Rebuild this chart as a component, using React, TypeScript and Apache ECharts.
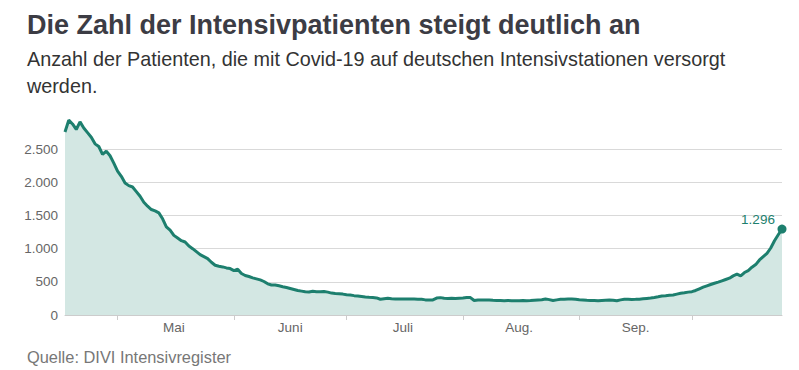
import React, { useEffect, useRef } from "react";
import * as echarts from "echarts";

const START_DATE = "2020-04-17";
const MONTH_LABELS: Record<string, string> = {
  "05": "Mai",
  "06": "Juni",
  "07": "Juli",
  "08": "Aug.",
  "09": "Sep.",
};
const Y_TICKS = [0, 500, 1000, 1500, 2000, 2500];
const PATIENTS = [
  2760, 2937, 2880, 2797, 2911, 2820, 2750, 2680, 2580, 2540,
  2420, 2470, 2400, 2290, 2170, 2090, 1990, 1950, 1930, 1860,
  1790, 1700, 1640, 1590, 1570, 1540, 1450, 1330, 1280, 1200,
  1160, 1120, 1100, 1040, 1000, 955, 910, 880, 850, 795,
  750, 735, 725, 710, 700, 670, 690, 625, 595, 580,
  560, 545, 530, 505, 470, 452, 452, 440, 427, 415,
  400, 385, 370, 360, 350, 346, 358, 352, 350, 355,
  345, 330, 325, 322, 315, 305, 300, 292, 288, 280,
  272, 266, 262, 258, 238, 245, 252, 246, 242, 241,
  241, 240, 242, 240, 238, 236, 228, 226, 228, 255,
  262, 252, 250, 252, 250, 254, 258, 264, 262, 218,
  226, 228, 225, 226, 222, 220, 218, 216, 218, 216,
  215, 216, 218, 216, 218, 222, 226, 230, 241, 232,
  218, 228, 236, 238, 240, 241, 238, 230, 226, 222,
  220, 218, 216, 220, 224, 226, 224, 216, 228, 236,
  236, 235, 236, 238, 244, 250, 256, 264, 274, 285,
  290, 296, 302, 315, 328, 335, 345, 352, 370, 395,
  420, 440, 460, 478, 495, 515, 535, 555, 590, 617,
  590, 640, 670, 720, 760, 830, 880, 930, 1010, 1120,
  1210, 1296,
];

const TITLE = "Die Zahl der Intensivpatienten steigt deutlich an";
const SUBTITLE_LINES = [
  "Anzahl der Patienten, die mit Covid-19 auf deutschen Intensivstationen versorgt",
  "werden.",
];
const SOURCE = "Quelle: DIVI Intensivregister";

function buildDates(start: string, n: number): string[] {
  const [y, m, d] = start.split("-").map(Number);
  const base = Date.UTC(y, m - 1, d);
  const out: string[] = [];
  for (let i = 0; i < n; i++) {
    const dt = new Date(base + i * 86400000);
    const mm = String(dt.getUTCMonth() + 1).padStart(2, "0");
    const dd = String(dt.getUTCDate()).padStart(2, "0");
    out.push(`${dt.getUTCFullYear()}-${mm}-${dd}`);
  }
  return out;
}

const DATES = buildDates(START_DATE, PATIENTS.length);

const FONT = "'Liberation Sans', Arial, Helvetica, sans-serif";
const LINE = "#1d7f6e";
const FILL = "#d3e7e3";

function fmt(v: number): string {
  return String(v).replace(/\B(?=(\d{3})+(?!\d))/g, ".");
}

function txt(text: string, y: number, size: number, weight: string, color: string) {
  return {
    type: "text",
    x: 27,
    y,
    silent: true,
    style: {
      text,
      fill: color,
      font: `${weight} ${size}px ${FONT}`,
      textAlign: "left",
      textVerticalAlign: "middle",
      verticalAlign: "middle",
    },
  };
}

export default function App() {
  const ref = useRef<HTMLDivElement>(null);
  useEffect(() => {
    document.body.style.margin = "0";
    if (!ref.current) return;
    const chart = echarts.init(ref.current, undefined, { renderer: "svg" });
    const last = PATIENTS.length - 1;
    const splitColors = Y_TICKS.map(() => "#d9d9d9").concat(["rgba(0,0,0,0)"]);
    chart.setOption({
      animation: false,
      graphic: [
        txt(TITLE, 25, 27, "bold", "#3c3c44"),
        txt(SUBTITLE_LINES[0], 58.5, 19.8, "normal", "#333333"),
        txt(SUBTITLE_LINES[1], 86, 19.8, "normal", "#333333"),
        txt(SOURCE, 356.5, 16.4, "normal", "#777777"),
      ],
      grid: { left: 65, right: 17, top: 116, bottom: 55 },
      xAxis: {
        type: "category",
        data: DATES,
        boundaryGap: false,
        axisLine: { show: true, lineStyle: { color: "#cccccc", width: 1 } },
        axisTick: {
          show: true,
          interval: (_i: number, v: string) => v.endsWith("-01"),
          length: 5,
          lineStyle: { color: "#cccccc" },
        },
        axisLabel: {
          interval: (_i: number, v: string) => v.endsWith("-16") && MONTH_LABELS[v.slice(5, 7)] !== undefined,
          formatter: (v: string) => MONTH_LABELS[v.slice(5, 7)] || "",
          fontFamily: FONT,
          fontSize: 13.5,
          color: "#666666",
          margin: 5,
        },
        splitLine: { show: false },
      },
      yAxis: {
        type: "value",
        min: 0,
        max: 3000,
        interval: 500,
        axisLine: { show: false },
        axisTick: { show: false },
        axisLabel: {
          formatter: (v: number) => (Y_TICKS.includes(v) ? fmt(v) : ""),
          fontFamily: FONT,
          fontSize: 13.5,
          color: "#666666",
          margin: 7,
        },
        splitLine: { show: true, lineStyle: { color: splitColors, width: 1 } },
      },
      series: [
        {
          type: "line",
          data: PATIENTS.map((v, i) =>
            i === last
              ? {
                  value: v,
                  symbol: "circle",
                  symbolSize: 9,
                  itemStyle: { color: LINE },
                  label: {
                    show: true,
                    position: "top",
                    offset: [-24, 7],
                    formatter: () => fmt(v),
                    fontFamily: FONT,
                    fontSize: 13.5,
                    color: LINE,
                  },
                }
              : v
          ),
          showSymbol: true,
          showAllSymbol: true,
          symbol: "none",
          lineStyle: { color: LINE, width: 3 },
          areaStyle: { color: FILL, opacity: 1 },
          itemStyle: { color: LINE },
        },
      ],
    });
    return () => chart.dispose();
  }, []);
  return <div ref={ref} style={{ width: 799, height: 370 }} />;
}
